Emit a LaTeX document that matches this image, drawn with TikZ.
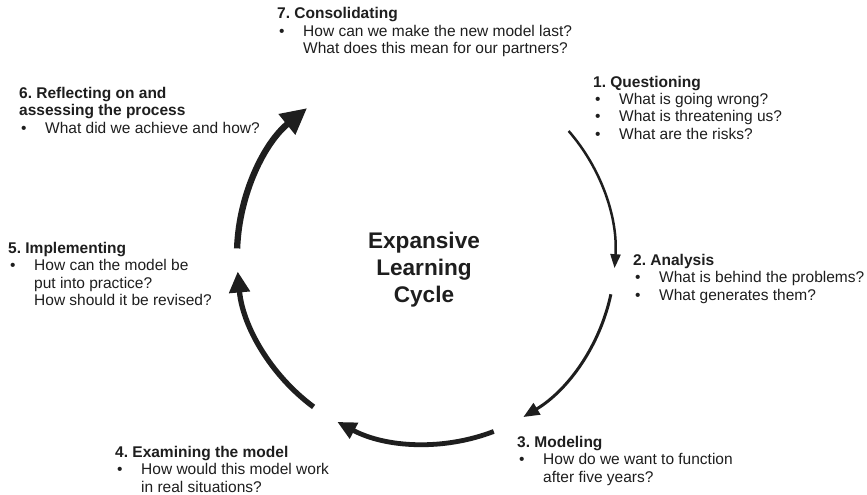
\documentclass[tikz,border=0pt]{standalone}
\usepackage{fontspec}
\setmainfont{Liberation Sans}
\usetikzlibrary{arrows.meta}
\frenchspacing
\definecolor{ink}{HTML}{1E1E1E}
\newcommand{\blt}{\hbox to 26pt{\hspace{2pt}\textbullet\hfil}}
\newcommand{\ind}{\hbox to 26pt{\hfil}}
\tikzset{
  blk/.style={anchor=base west, inner sep=0pt, text=ink, font=\fontsize{15.5}{17.5}\selectfont},
  ttl/.style={anchor=base, inner sep=0pt, text=ink, font=\bfseries\fontsize{22.6}{27}\selectfont},
  cyc/.style={draw=ink, line cap=butt}
}
\begin{document}
\begin{tikzpicture}[x=1pt,y=-1pt]
\useasboundingbox[fill=white] (0,0) rectangle (867,495);
\coordinate (c) at (426,255);
% title
\node[ttl] (title) at (424,248) {\vtop{\baselineskip=27pt\halign{\hfil#\hfil\cr Expansive\cr Learning\cr Cycle\cr}}};
% text blocks
\node[blk] (s7) at (277,19) {\vtop{\baselineskip=17.5pt
  \hbox{\textbf{7. Consolidating}}
  \hbox{\blt How can we make the new model last?}
  \hbox{\ind What does this mean for our partners?}}};
\node[blk] (s1) at (593,87) {\vtop{\baselineskip=17.5pt
  \hbox{\textbf{1. Questioning}}
  \hbox{\blt What is going wrong?}
  \hbox{\blt What is threatening us?}
  \hbox{\blt What are the risks?}}};
\node[blk] (s2) at (633,265) {\vtop{\baselineskip=17.5pt
  \hbox{\textbf{2. Analysis}}
  \hbox{\blt What is behind the problems?}
  \hbox{\blt What generates them?}}};
\node[blk] (s3) at (517,447) {\vtop{\baselineskip=17.5pt
  \hbox{\textbf{3. Modeling}}
  \hbox{\blt How do we want to function}
  \hbox{\ind after five years?}}};
\node[blk] (s4) at (115,457) {\vtop{\baselineskip=17.5pt
  \hbox{\textbf{4. Examining the model}}
  \hbox{\blt How would this model work}
  \hbox{\ind in real situations?}}};
\node[blk] (s5) at (8,253) {\vtop{\baselineskip=17.5pt
  \hbox{\textbf{5. Implementing}}
  \hbox{\blt How can the model be}
  \hbox{\ind put into practice?}
  \hbox{\ind How should it be revised?}}};
\node[blk] (s6) at (19,98) {\vtop{\baselineskip=17.5pt
  \hbox{\textbf{6. Reflecting on and}}
  \hbox{\textbf{assessing the process}}
  \hbox{\blt What did we achieve and how?}}};
% cycle arcs
\draw[cyc, line width=2.5pt, -{Triangle[length=14pt,width=10pt]}]
  ([shift={(41:189pt)}]c) arc[start angle=41, end angle=-4, radius=189pt];
\draw[cyc, line width=3pt, -{Triangle[length=16pt,width=13pt]}]
  ([shift={(-12:189pt)}]c) arc[start angle=-12, end angle=-59, radius=189pt];
\draw[cyc, line width=4.8pt, -{Triangle[length=19pt,width=17pt]}]
  ([shift={(-69:189pt)}]c) arc[start angle=-69, end angle=-118, radius=189pt];
\draw[cyc, line width=5.3pt, -{Triangle[length=21pt,width=20pt]}]
  ([shift={(-126.5:189pt)}]c) arc[start angle=-126.5, end angle=-175, radius=189pt];
\draw[cyc, line width=6.3pt, -{Triangle[length=26pt,width=25pt]}]
  ([shift={(178:189pt)}]c) arc[start angle=178, end angle=129, radius=189pt];
\end{tikzpicture}
\end{document}
